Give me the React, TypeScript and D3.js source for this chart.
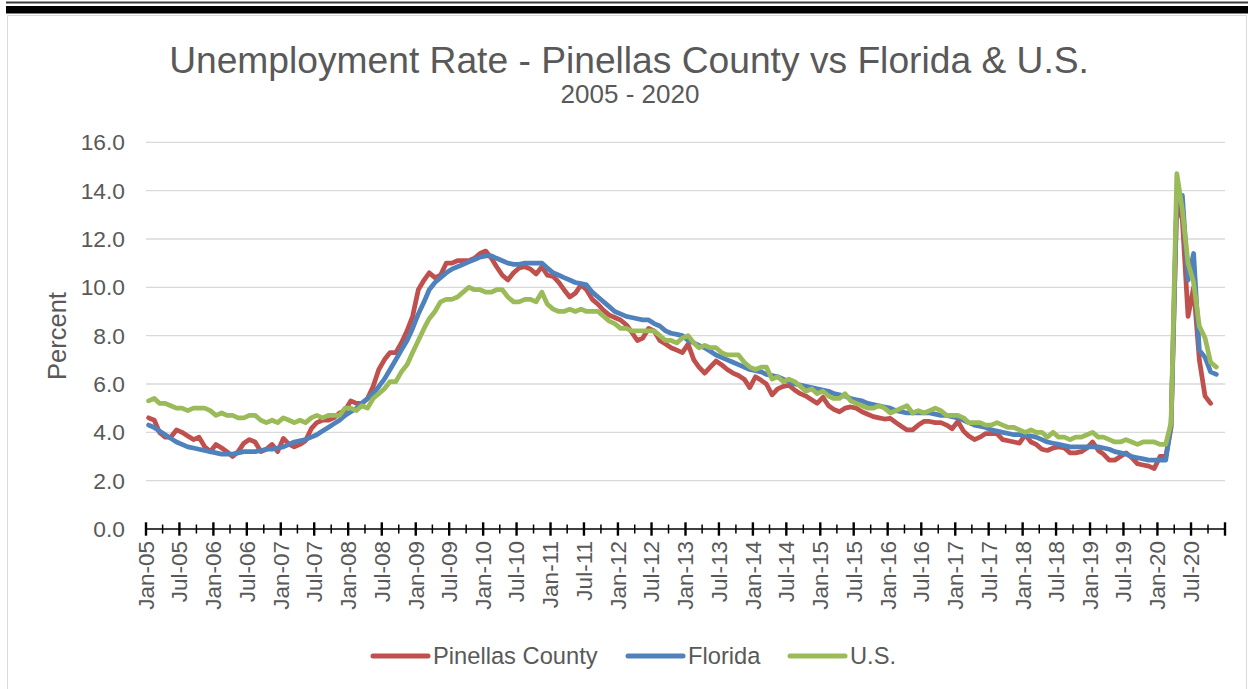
import React from 'react';
import * as d3 from 'd3';

// monthly rates, Jan-05 onward
const pinellas = [
  4.6, 4.5, 4.0, 3.8, 3.8, 4.1, 4.0, 3.85, 3.7, 3.8, 3.4, 3.2,
  3.5, 3.35, 3.2, 3.0, 3.2, 3.55, 3.7, 3.6, 3.2, 3.3, 3.5, 3.2,
  3.75, 3.5, 3.4, 3.5, 3.65, 4.15, 4.4, 4.5, 4.5, 4.6, 4.8, 4.9,
  5.3, 5.2, 5.2, 5.4, 5.9, 6.6, 7.0, 7.3, 7.3, 7.7, 8.2, 8.8,
  9.9, 10.3, 10.6, 10.4, 10.5, 11.0, 11.0, 11.1, 11.1, 11.1, 11.2, 11.4,
  11.5, 11.2, 10.85, 10.5, 10.3, 10.6, 10.8, 10.85, 10.75, 10.55, 10.85, 10.5,
  10.45, 10.2, 9.9, 9.6, 9.75, 10.1, 9.9, 9.5, 9.3, 9.05, 8.85, 8.75,
  8.65, 8.45, 8.15, 7.8, 7.9, 8.3, 8.2, 7.8, 7.65, 7.5, 7.4, 7.3,
  7.65, 7.0, 6.7, 6.45, 6.7, 6.95, 6.8, 6.6, 6.45, 6.35, 6.2, 5.85,
  6.3, 6.15, 6.0, 5.55, 5.8, 5.9, 5.95, 5.75, 5.6, 5.5, 5.35, 5.2,
  5.45, 5.1, 4.95, 4.85, 5.0, 5.05, 5.0, 4.85, 4.75, 4.65, 4.6, 4.55,
  4.58, 4.4, 4.25, 4.1, 4.1, 4.3, 4.45, 4.45, 4.4, 4.4, 4.3, 4.15,
  4.45, 4.05, 3.85, 3.7, 3.8, 3.95, 3.95, 3.95, 3.7, 3.65, 3.6, 3.55,
  3.9, 3.6, 3.5, 3.3, 3.25, 3.35, 3.4, 3.35, 3.15, 3.15, 3.2, 3.35,
  3.6, 3.25, 3.1, 2.85, 2.85, 3.0, 3.15, 2.95, 2.7, 2.65, 2.6, 2.5,
  3.0, 3.0, 4.2, 13.6, 12.8, 8.8, 10.0, 7.0, 5.5, 5.2,
];

const florida = [
  4.3, 4.2, 4.05, 3.9, 3.75, 3.6, 3.5, 3.4, 3.35, 3.3, 3.25, 3.2,
  3.15, 3.1, 3.1, 3.1, 3.15, 3.2, 3.2, 3.2, 3.25, 3.3, 3.3, 3.35,
  3.4, 3.5, 3.6, 3.65, 3.7, 3.8, 3.9, 4.05, 4.2, 4.35, 4.5, 4.7,
  4.85, 5.0, 5.2, 5.4, 5.6, 5.9, 6.2, 6.6, 7.0, 7.4, 7.8, 8.3,
  8.9, 9.4, 9.9, 10.2, 10.4, 10.6, 10.75, 10.85, 10.95, 11.05, 11.15, 11.25,
  11.3, 11.3, 11.2, 11.1, 11.0, 10.95, 10.95, 11.0, 11.0, 11.0, 11.0, 10.8,
  10.6, 10.5, 10.4, 10.3, 10.2, 10.15, 10.1, 9.8, 9.6, 9.4, 9.2, 9.0,
  8.9, 8.8, 8.75, 8.7, 8.65, 8.65, 8.5, 8.4, 8.2, 8.1, 8.05, 8.0,
  7.8, 7.7, 7.6, 7.5, 7.35, 7.2, 7.1, 7.0, 6.9, 6.8, 6.7, 6.6,
  6.55, 6.5, 6.4, 6.35, 6.3, 6.2, 6.1, 6.0, 5.95, 5.9, 5.85, 5.8,
  5.75, 5.7, 5.6, 5.55, 5.5, 5.4, 5.35, 5.3, 5.2, 5.15, 5.1, 5.05,
  5.0, 4.9, 4.85, 4.8, 4.8, 4.8, 4.8, 4.8, 4.75, 4.7, 4.7, 4.65,
  4.6, 4.5, 4.4, 4.3, 4.25, 4.2, 4.1, 4.05, 4.0, 3.95, 3.9, 3.9,
  3.85, 3.85, 3.8, 3.7, 3.6, 3.55, 3.5, 3.45, 3.4, 3.4, 3.4, 3.4,
  3.4, 3.4, 3.35, 3.3, 3.2, 3.15, 3.1, 3.0, 2.95, 2.9, 2.85, 2.85,
  2.85, 2.85, 4.3, 13.8, 13.8, 10.3, 11.4, 7.4, 7.1, 6.5, 6.4,
];

const us = [
  5.3, 5.4, 5.2, 5.2, 5.1, 5.0, 5.0, 4.9, 5.0, 5.0, 5.0, 4.9,
  4.7, 4.8, 4.7, 4.7, 4.6, 4.6, 4.7, 4.7, 4.5, 4.4, 4.5, 4.4,
  4.6, 4.5, 4.4, 4.5, 4.4, 4.6, 4.7, 4.6, 4.7, 4.7, 4.7, 5.0,
  5.0, 4.9, 5.1, 5.0, 5.4, 5.6, 5.8, 6.1, 6.1, 6.5, 6.8, 7.3,
  7.8, 8.3, 8.7, 9.0, 9.4, 9.5, 9.5, 9.6, 9.8, 10.0, 9.9, 9.9,
  9.8, 9.8, 9.9, 9.9, 9.6, 9.4, 9.4, 9.5, 9.5, 9.4, 9.8, 9.3,
  9.1, 9.0, 9.0, 9.1, 9.0, 9.1, 9.0, 9.0, 9.0, 8.8, 8.6, 8.5,
  8.3, 8.3, 8.2, 8.2, 8.2, 8.2, 8.2, 8.0, 7.8, 7.8, 7.7, 7.9,
  8.0, 7.7, 7.5, 7.6, 7.5, 7.5, 7.3, 7.2, 7.2, 7.2, 6.9, 6.7,
  6.6, 6.7, 6.7, 6.2, 6.3, 6.1, 6.2, 6.1, 5.9, 5.7, 5.8, 5.6,
  5.7, 5.5, 5.4, 5.4, 5.6, 5.3, 5.2, 5.1, 5.0, 5.0, 5.1, 5.0,
  4.8, 4.9, 5.0, 5.1, 4.8, 4.9, 4.8, 4.9, 5.0, 4.9, 4.7, 4.7,
  4.7, 4.6, 4.4, 4.4, 4.4, 4.3, 4.3, 4.4, 4.3, 4.2, 4.2, 4.1,
  4.0, 4.1, 4.0, 4.0, 3.8, 4.0, 3.8, 3.8, 3.7, 3.8, 3.8, 3.9,
  4.0, 3.8, 3.8, 3.7, 3.6, 3.6, 3.7, 3.6, 3.5, 3.6, 3.6, 3.6,
  3.5, 3.5, 4.4, 14.7, 13.2, 11.0, 10.2, 8.4, 7.9, 6.9, 6.7,
];

const seriesNames = ['Pinellas County', 'Florida', 'U.S.'];
const seriesColors = ['#C0504D', '#4F81BD', '#9BBB59'];
const yTicks = [0, 2, 4, 6, 8, 10, 12, 14, 16];

const W = 1250, H = 689;
const plot = { left: 146, right: 1225, top: 142.3, bottom: 529 };
const font = '"Liberation Sans", Arial, sans-serif';
const grey = '#595959';

const x = d3.scaleUtc()
  .domain([new Date(Date.UTC(2005, 0, 1)), new Date(Date.UTC(2021, 0, 1))])
  .range([plot.left, plot.right]);
const y = d3.scaleLinear().domain([0, 16]).range([plot.bottom, plot.top]);

const monthDate = (i: number) => new Date(Date.UTC(2005, i, 15));
const line = d3.line<number>()
  .x((d, i) => x(monthDate(i)))
  .y(d => y(d));

const ticks = d3.utcMonth.every(3)!.range(
  new Date(Date.UTC(2005, 0, 1)), new Date(Date.UTC(2021, 0, 2)));
const fmt = d3.utcFormat('%b-%y');

export default function App() {
  const data = [pinellas, florida, us];
  const legendX = [373, 628, 790];
  return (
    <svg width={W} height={H} style={{ position: 'fixed', left: 0, top: 0, background: '#fff' }}
      fontFamily={font}>
      <rect x={0} y={0} width={W} height={H} fill="#fff" />
      <rect x={6} y={1.5} width={1242} height={2} fill="#3a3a3a" />
      <rect x={6} y={6} width={1242} height={7.5} fill="#000" />
      <rect x={7.5} y={15.5} width={1239} height={700} fill="none" stroke="#d9d9d9" />

      <text x={629} y={73} textAnchor="middle" fontSize={37.2} fill={grey}>
        Unemployment Rate - Pinellas County vs Florida &amp; U.S.
      </text>
      <text x={630} y={103} textAnchor="middle" fontSize={26} fill={grey}>2005 - 2020</text>

      {yTicks.filter(t => t > 0).map(t => (
        <line key={t} x1={plot.left} x2={plot.right} y1={y(t)} y2={y(t)}
          stroke="#d9d9d9" strokeWidth={1.3} />
      ))}
      {yTicks.map(t => (
        <text key={t} x={125} y={y(t)} dy="0.35em" textAnchor="end" fontSize={22.8} fill={grey}>
          {t.toFixed(1)}
        </text>
      ))}
      <text transform={`translate(66,336) rotate(-90)`} textAnchor="middle" fontSize={25.5} fill={grey}>
        Percent
      </text>

      {data.map((s, k) => (
        <path key={k} d={line(s) || ''} fill="none" stroke={seriesColors[k]} strokeWidth={4.75}
          strokeLinejoin="round" strokeLinecap="round" />
      ))}

      <line x1={plot.left} x2={plot.right} y1={plot.bottom} y2={plot.bottom} stroke="#000" strokeWidth={1.6} />
      {ticks.map((t, i) => {
        const major = t.getUTCMonth() % 6 === 0;
        const h = major ? 6.7 : 4.5;
        return (
          <line key={i} x1={x(t)} x2={x(t)} y1={plot.bottom - h} y2={plot.bottom + h}
            stroke="#000" strokeWidth={major ? 2.4 : 1.5} />
        );
      })}
      {ticks.filter(t => t.getUTCMonth() % 6 === 0 && t < new Date(Date.UTC(2021, 0, 1))).map((t, i) => (
        <text key={i} transform={`translate(${x(t)},541) rotate(-90)`} dy="0.35em" textAnchor="end"
          fontSize={22.5} fill={grey}>
          {fmt(t)}
        </text>
      ))}

      {seriesNames.map((n, k) => (
        <g key={n}>
          <line x1={legendX[k]} x2={legendX[k] + 55} y1={656} y2={656} stroke={seriesColors[k]}
            strokeWidth={5} strokeLinecap="round" />
          <text x={legendX[k] + 60} y={656} dy="0.35em" fontSize={23.7} fill={grey}>{n}</text>
        </g>
      ))}
    </svg>
  );
}
